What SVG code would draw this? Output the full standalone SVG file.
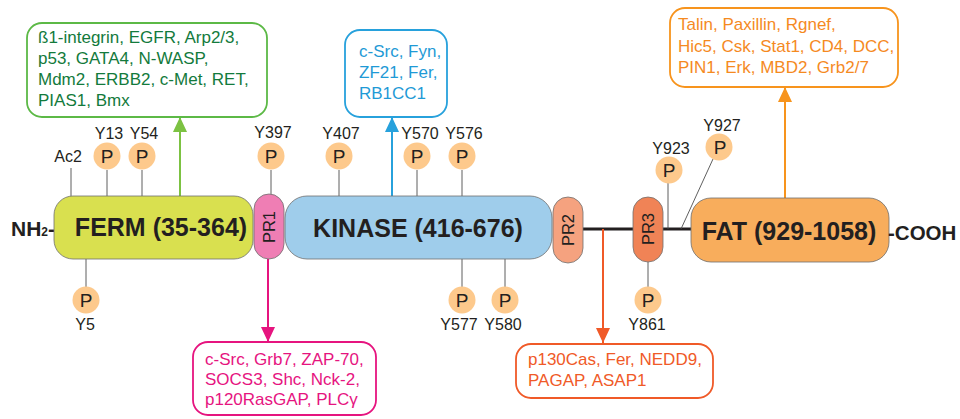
<svg xmlns="http://www.w3.org/2000/svg" width="960" height="419" viewBox="0 0 960 419">
<style>
  text { font-family: "Liberation Sans", Arial, sans-serif; }
  .dom { stroke: #6e6e6e; stroke-width: 0.8; }
  .big { font-size: 25px; font-weight: bold; fill: #231f20; text-anchor: middle; }
  .pr { font-size: 16.5px; fill: #231f20; text-anchor: middle; }
  .pc { fill: #fdc98c; }
  .pt { font-size: 19px; fill: #231f20; text-anchor: middle; }
  .yl { font-size: 16px; fill: #231f20; text-anchor: middle; }
  .stick { stroke: #4d4d4d; stroke-width: 0.9; fill: none; }
  .box { fill: #fff; stroke-width: 1.8; }
  .bt { font-size: 17px; }
  .arr { stroke-width: 2; fill: none; }
</style>
<defs>
  <marker id="mg" markerUnits="userSpaceOnUse" markerWidth="16" markerHeight="14" refX="15" refY="7" orient="auto"><path d="M0,0 L15,7 L0,14 z" fill="#7cc242"/></marker>
  <marker id="mb" markerUnits="userSpaceOnUse" markerWidth="16" markerHeight="14" refX="15" refY="7" orient="auto"><path d="M0,0 L15,7 L0,14 z" fill="#27a1dc"/></marker>
  <marker id="mo" markerUnits="userSpaceOnUse" markerWidth="16" markerHeight="14" refX="15" refY="7" orient="auto"><path d="M0,0 L15,7 L0,14 z" fill="#f7941d"/></marker>
  <marker id="mp" markerUnits="userSpaceOnUse" markerWidth="16" markerHeight="14" refX="15" refY="7" orient="auto"><path d="M0,0 L15,7 L0,14 z" fill="#e6147f"/></marker>
  <marker id="mr" markerUnits="userSpaceOnUse" markerWidth="16" markerHeight="14" refX="15" refY="7" orient="auto"><path d="M0,0 L15,7 L0,14 z" fill="#f05a28"/></marker>
</defs>

<g id="connectors">
  <line x1="583" y1="229" x2="633" y2="229" stroke="#231f20" stroke-width="3"/>
  <line x1="663" y1="229" x2="691" y2="229" stroke="#231f20" stroke-width="3"/>
  <line class="stick" x1="71" y1="168" x2="71" y2="196"/>
  <line class="stick" x1="107" y1="170" x2="107" y2="196"/>
  <line class="stick" x1="142" y1="170" x2="142" y2="196"/>
  <line class="stick" x1="271" y1="170" x2="271" y2="194"/>
  <line class="stick" x1="339" y1="170" x2="339" y2="196"/>
  <line class="stick" x1="417" y1="170" x2="417" y2="196"/>
  <line class="stick" x1="462" y1="170" x2="462" y2="196"/>
  <line class="stick" x1="86" y1="259" x2="86" y2="287"/>
  <line class="stick" x1="462" y1="259" x2="462" y2="287"/>
  <line class="stick" x1="505" y1="259" x2="505" y2="287"/>
  <line class="stick" x1="648" y1="262" x2="648" y2="287"/>
  <line class="stick" x1="668" y1="183" x2="668" y2="229"/>
  <line class="stick" x1="713" y1="159" x2="681" y2="229"/>
  <line class="arr" stroke="#7cc242" x1="180" y1="196" x2="180" y2="117" marker-end="url(#mg)"/>
  <line class="arr" stroke="#27a1dc" x1="392" y1="196" x2="392" y2="117" marker-end="url(#mb)"/>
  <line class="arr" stroke="#f7941d" x1="785" y1="198" x2="785" y2="87" marker-end="url(#mo)"/>
  <line class="arr" stroke="#e6147f" x1="268" y1="259" x2="268" y2="342" marker-end="url(#mp)"/>
  <line class="arr" stroke="#f05a28" x1="603" y1="229" x2="603" y2="343" marker-end="url(#mr)"/>
</g>

<g id="terminus-n">
  <text x="11" y="236" font-size="21" font-weight="bold" fill="#231f20">NH<tspan font-size="12">2</tspan>-</text>
</g>
<g id="ferm">
  <rect class="dom" x="54" y="196" width="199" height="63" rx="19" fill="#d9e04f"/>
  <text class="big" x="161" y="236">FERM (35-364)</text>
</g>
<g id="pr1">
  <rect class="dom" x="254" y="194" width="30" height="65" rx="15" fill="#ef7eb4"/>
  <text class="pr" transform="translate(275,227) rotate(-90)">PR1</text>
</g>
<g id="kinase">
  <rect class="dom" x="285" y="196" width="267" height="63" rx="22" fill="#9fcdeb"/>
  <text class="big" x="418" y="237">KINASE (416-676)</text>
</g>
<g id="pr2">
  <rect class="dom" x="553" y="197" width="30" height="66" rx="15" fill="#f5a27f"/>
  <text class="pr" transform="translate(574,230) rotate(-90)">PR2</text>
</g>
<g id="pr3">
  <rect class="dom" x="633" y="197" width="30" height="65" rx="15" fill="#f08356"/>
  <text class="pr" transform="translate(654,229) rotate(-90)">PR3</text>
</g>
<g id="fat">
  <rect class="dom" x="691" y="198" width="198" height="64" rx="20" fill="#f8ad5c"/>
  <text class="big" x="789" y="240">FAT (929-1058)</text>
</g>
<g id="terminus-c">
  <text x="888" y="240" font-size="20.5" font-weight="bold" fill="#231f20">-COOH</text>
</g>

<g id="ac2"><text class="yl" x="68" y="162">Ac2</text></g>
<g id="y13"><text class="yl" x="109" y="139">Y13</text><circle class="pc" cx="107" cy="156" r="13.5"/><text class="pt" x="107" y="163">P</text></g>
<g id="y54"><text class="yl" x="144" y="139">Y54</text><circle class="pc" cx="142" cy="156" r="13.5"/><text class="pt" x="142" y="163">P</text></g>
<g id="y397"><text class="yl" x="273" y="138">Y397</text><circle class="pc" cx="271" cy="156" r="13.5"/><text class="pt" x="271" y="163">P</text></g>
<g id="y407"><text class="yl" x="341" y="139">Y407</text><circle class="pc" cx="339" cy="156" r="13.5"/><text class="pt" x="339" y="163">P</text></g>
<g id="y570"><text class="yl" x="420" y="139">Y570</text><circle class="pc" cx="417" cy="156" r="13.5"/><text class="pt" x="417" y="163">P</text></g>
<g id="y576"><text class="yl" x="464" y="139">Y576</text><circle class="pc" cx="462" cy="156" r="13.5"/><text class="pt" x="462" y="163">P</text></g>
<g id="y923"><text class="yl" x="671" y="154">Y923</text><circle class="pc" cx="669" cy="170" r="13.5"/><text class="pt" x="669" y="177">P</text></g>
<g id="y927"><text class="yl" x="722" y="131">Y927</text><circle class="pc" cx="719" cy="147" r="13.5"/><text class="pt" x="720" y="154">P</text></g>
<g id="y5"><circle class="pc" cx="86" cy="300" r="13.5"/><text class="pt" x="86" y="307">P</text><text class="yl" x="85" y="330">Y5</text></g>
<g id="y577"><circle class="pc" cx="462" cy="300" r="13.5"/><text class="pt" x="462" y="307">P</text><text class="yl" x="459" y="330">Y577</text></g>
<g id="y580"><circle class="pc" cx="505" cy="300" r="13.5"/><text class="pt" x="505" y="307">P</text><text class="yl" x="503" y="330">Y580</text></g>
<g id="y861"><circle class="pc" cx="648" cy="300" r="13.5"/><text class="pt" x="648" y="307">P</text><text class="yl" x="647" y="330">Y861</text></g>

<g id="box-ferm">
  <rect class="box" x="27" y="23" width="240" height="94" rx="15" stroke="#5cb946"/>
  <text class="bt" fill="#137a3c"><tspan x="38" y="43">ß1-integrin, EGFR, Arp2/3,</tspan><tspan x="38" y="64">p53, GATA4, N-WASP,</tspan><tspan x="38" y="85">Mdm2, ERBB2, c-Met, RET,</tspan><tspan x="38" y="106">PIAS1, Bmx</tspan></text>
</g>
<g id="box-kinase">
  <rect class="box" x="345" y="30" width="102" height="87" rx="15" stroke="#27a1dc"/>
  <text class="bt" fill="#1f9ad6"><tspan x="359" y="57">c-Src, Fyn,</tspan><tspan x="359" y="78">ZF21, Fer,</tspan><tspan x="359" y="99">RB1CC1</tspan></text>
</g>
<g id="box-fat">
  <rect class="box" x="670" y="8" width="228" height="79" rx="15" stroke="#f7941d"/>
  <text class="bt" fill="#f58a1f"><tspan x="678" y="30">Talin, Paxillin, Rgnef,</tspan><tspan x="678" y="52">Hic5, Csk, Stat1, CD4, DCC,</tspan><tspan x="678" y="73">PIN1, Erk, MBD2, Grb2/7</tspan></text>
</g>
<g id="box-pr1">
  <rect class="box" x="193" y="342" width="183" height="73" rx="15" stroke="#e6147f"/>
  <text class="bt" fill="#e6147f"><tspan x="205" y="365">c-Src, Grb7, ZAP-70,</tspan><tspan x="205" y="385">SOCS3, Shc, Nck-2,</tspan><tspan x="205" y="405">p120RasGAP, PLCγ</tspan></text>
</g>
<g id="box-pr2">
  <rect class="box" x="516" y="344" width="197" height="54" rx="15" stroke="#f05a28"/>
  <text class="bt" fill="#f05a28"><tspan x="528" y="365">p130Cas, Fer, NEDD9,</tspan><tspan x="528" y="386">PAGAP, ASAP1</tspan></text>
</g>
</svg>
